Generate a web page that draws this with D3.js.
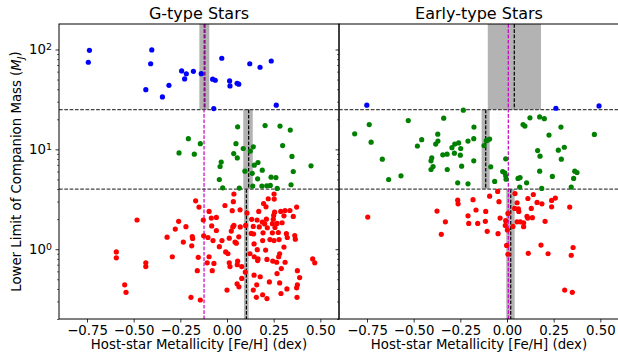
<!DOCTYPE html>
<html>
<head>
<meta charset="utf-8">
<script src="https://cdn.jsdelivr.net/npm/d3@7"></script>
<style>
  html, body { margin: 0; padding: 0; background: #fff; }
  svg { display: block; font-family: "DejaVu Sans", sans-serif; }
</style>
</head>
<body>
<svg id="chart" width="618" height="356"></svg>
<script>
// ---- Data: [Fe/H] (dex), lower-limit companion mass (M_J) ----
const gBlue = [[-0.743,74.5],[-0.737,98],[-0.409,72],[-0.403,99],[-0.435,39.6],[-0.346,33.5],[-0.311,43.8],[-0.243,61],[-0.218,57],[-0.227,50.7],[-0.180,60.5],[-0.138,57.3],[-0.077,50.4],[-0.063,49.2],[-0.071,25.6],[-0.028,81.7],[0.014,48.4],[0.016,43.2],[0.054,45.9],[0.063,44.9],[0.122,72],[0.177,66.4],[0.237,76.7],[0.264,27.7]];

const gGreen = [[0.057,16.8],[0.204,17.3],[0.284,17.1],[0.339,15.6],[-0.207,12.8],[-0.143,11.4],[-0.257,9.2],[-0.175,8.95],[0.048,11.4],[0.087,10.2],[0.141,10.6],[0.125,9.6],[0.298,10.9],[0.036,9.08],[0.055,8.2],[0.348,8.5],[-0.031,7.45],[-0.037,6.73],[0.166,7.38],[0.146,6.95],[0.450,6.84],[0.189,6.19],[0.096,6.05],[0.355,6.0],[0.164,5.07],[0.236,5.27],[0.262,5.22],[-0.041,4.99],[-0.023,4.12],[0.066,4.09],[0.138,4.29],[0.187,4.29],[0.213,4.32],[0.232,4.35],[0.269,4.06],[0.343,4.42],[0.135,5.75]];

const gRed = [[-0.168,3.05],[-0.150,2.64],[0.037,3.57],[-0.011,2.74],[0.034,2.99],[0.070,2.48],[0.028,2.43],[-0.096,2.39],[0.107,2.30],[0.252,3.57],
[0.253,3.18],[0.221,3.20],[0.196,2.87],[0.209,2.66],[0.170,2.39],[0.255,2.35],[0.288,2.39],[0.311,2.44],[0.337,2.44],[0.373,2.64],
[0.305,2.16],[0.250,2.18],[0.355,2.13],[-0.482,1.96],[-0.259,1.90],[-0.127,1.96],[-0.084,2.05],[-0.057,2.08],[0.132,1.99],[0.161,1.96],
[0.211,2.00],[0.248,1.99],[0.189,1.87],[0.202,1.79],[0.243,1.80],[0.268,1.81],[0.295,1.84],[0.141,1.69],[0.173,1.67],[0.216,1.64],
[0.257,1.65],[0.100,1.73],[0.071,1.67],[0.031,1.67],[0.037,1.73],[-0.082,1.71],[-0.220,1.68],[-0.277,1.59],[-0.057,1.54],[0.023,1.52],
[0.130,1.44],[0.143,1.42],[0.193,1.46],[0.243,1.46],[0.275,1.47],[0.318,1.43],[-0.186,1.34],[-0.184,1.28],[-0.125,1.36],[-0.102,1.31],
[-0.321,1.32],[0.012,1.29],[0.063,1.33],[0.043,1.18],[-0.027,1.22],[-0.075,1.22],[-0.234,1.18],[-0.189,1.08],[-0.041,1.06],[0.050,1.15],
[0.145,1.13],[0.191,1.22],[0.230,1.25],[0.252,1.22],[0.279,1.25],[0.323,1.31],[0.363,1.37],[0.366,1.26],[0.305,1.05],[0.207,0.98],
[0.162,0.99],[-0.593,0.94],[-0.593,0.82],[-0.293,0.84],[-0.154,0.83],[-0.096,0.84],[-0.007,0.94],[0.005,0.90],[0.123,0.90],[0.146,0.84],
[0.166,0.80],[0.214,0.79],[0.282,0.90],[0.277,0.84],[0.245,0.76],[0.266,0.74],[0.311,0.74],[0.164,0.77],[-0.435,0.73],[-0.435,0.67],
[-0.106,0.73],[-0.070,0.72],[0.012,0.73],[0.016,0.67],[0.057,0.76],[0.055,0.70],[0.079,0.67],[-0.159,0.61],[-0.079,0.61],[0.098,0.59],
[0.145,0.55],[0.178,0.53],[0.291,0.64],[0.268,0.57],[0.377,0.61],[0.389,0.52],[0.079,0.51],[0.227,0.47],[0.282,0.46],[0.054,0.45],
[0.064,0.42],[0.159,0.44],[0.377,0.44],[0.373,0.41],[0.321,0.40],[-0.548,0.44],[-0.541,0.37],[0.000,0.39],[0.141,0.39],[0.289,0.36],
[0.191,0.35],[0.157,0.33],[0.214,0.32],[0.375,0.33],[-0.193,0.33],[-0.143,0.31],[0.459,0.80],[0.470,0.73]];

const eBlue = [[-0.751,27.7],[0.262,25.8],[0.493,27.2]];

const eGreen = [[-0.234,24.7],[-0.738,17.7],[-0.816,14.3],[-0.728,11.8],[-0.529,19.4],[-0.339,20.5],[-0.177,16.7],[-0.371,14.2],[-0.457,12.5],[-0.370,12.1],
[-0.382,11.3],[-0.480,10.8],[-0.668,7.98],[-0.634,4.99],[-0.568,5.43],[-0.403,8.22],[-0.407,7.67],[-0.396,6.73],[-0.407,6.28],[-0.344,8.81],
[-0.321,8.95],[-0.320,6.28],[-0.295,10.4],[-0.280,11.3],[-0.259,11.6],[-0.282,9.16],[-0.248,10.2],[-0.250,8.75],[-0.209,12.1],[-0.178,12.8],
[-0.178,7.67],[-0.243,6.79],[-0.264,4.62],[-0.209,4.52],[-0.123,10.9],[-0.111,12.2],[-0.093,12.7],[-0.102,12.4],[-0.087,6.68],[-0.066,4.77],
[-0.007,8.04],[-0.023,6.0],[-0.012,5.82],[-0.007,5.43],[-0.005,5.03],[0.059,5.11],[0.070,5.22],[0.105,4.62],[0.068,4.19],[0.123,20.7],
[0.086,17.7],[0.096,17.1],[0.175,21.1],[0.200,20.3],[0.289,16.7],[0.225,13.9],[0.164,9.73],[0.177,8.55],[0.275,9.82],[0.307,10.5],
[0.291,7.98],[0.175,6.05],[0.243,5.35],[0.363,6.05],[0.375,5.86],[0.357,5.11],[0.344,4.19],[0.186,4.06],[0.468,14.1]];

const eRed = [[-0.746,2.10],[-0.375,2.41],[-0.330,1.88],[-0.352,1.41],[-0.264,3.10],[-0.262,2.85],[-0.182,3.13],[-0.209,2.16],[-0.205,1.81],[-0.166,2.47],
[-0.157,1.81],[-0.114,2.39],[-0.116,1.90],[-0.106,1.51],[-0.093,3.40],[-0.050,3.79],[-0.043,2.99],[-0.037,2.05],[-0.048,1.43],[-0.007,1.93],
[-0.009,1.73],[0.005,2.28],[0.002,1.56],[-0.002,1.09],[0.005,0.89],[0.032,1.69],[0.043,3.61],[0.054,2.92],[0.041,2.56],[0.061,2.54],
[0.063,2.39],[0.054,1.88],[0.071,1.88],[0.089,1.84],[0.089,1.68],[0.112,3.22],[0.141,3.53],[0.161,2.94],[0.187,2.85],[0.130,2.56],
[0.107,2.13],[0.111,2.05],[0.136,2.07],[0.204,1.90],[0.239,3.08],[0.259,3.25],[0.239,2.66],[0.336,2.64],[0.182,1.10],[0.114,0.91],
[0.220,0.90],[0.354,1.04],[0.344,0.87],[0.309,0.39],[0.350,0.37]];

// Mass boundaries (M_J) separating the three companion classes
const massCuts = [4, 25];

// Per-class [Fe/H] centre and uncertainty range, ordered: >25, 4-25, <4 M_J
const gCenter = [-0.119, 0.116, 0.104];
const gLow    = [-0.148, 0.087, 0.091];
const gHigh   = [-0.095, 0.138, 0.116];
const eCenter = [0.039, -0.114, 0.020];
const eLow    = [-0.103, -0.136, -0.004];
const eHigh   = [0.182, -0.093, 0.041];

// Reference metallicity of each parent sample
const gReference = -0.123;
const eReference = 0.007;

// Axis ticks
const xTicks = [-0.75, -0.5, -0.25, 0, 0.25, 0.5];
const yTicks = [1, 10, 100];
const titles = ["G-type Stars", "Early-type Stars"];
const xLabel = "Host-star Metallicity [Fe/H] (dex)";

// ---- Layout ----
const svg = d3.select("#chart");
const plotTop = 24, plotBottom = 319;
const panels = [
  { x0: 59,  x1: 339, title: titles[0], blue: gBlue, green: gGreen, red: gRed,
    center: gCenter, low: gLow, high: gHigh, ref: gReference, labels: true },
  { x0: 339, x1: 619, title: titles[1], blue: eBlue, green: eGreen, red: eRed,
    center: eCenter, low: eLow, high: eHigh, ref: eReference, labels: false }
];

const y = d3.scaleLog().domain([0.2, 180]).range([plotBottom, plotTop]);
const bins = [[massCuts[1], 180], [massCuts[0], massCuts[1]], [0.2, massCuts[0]]];

const minorTicks = [];
[0.1, 1, 10, 100].forEach(dec => {
  for (let k = 2; k <= 9; k++) {
    const v = dec * k;
    if (v >= 0.2 && v <= 180) minorTicks.push(v);
  }
});

const fmtX = v => (v < 0 ? "\u2212" : "") + Math.abs(v).toFixed(2);

panels.forEach((p, i) => {
  const x = d3.scaleLinear().domain([-0.9, 0.6]).range([p.x0, p.x1]);
  const g = svg.append("g");

  const clipId = "clip" + i;
  svg.append("clipPath").attr("id", clipId)
    .append("rect").attr("x", p.x0).attr("y", plotTop)
    .attr("width", p.x1 - p.x0).attr("height", plotBottom - plotTop);

  const plot = g.append("g").attr("clip-path", `url(#${clipId})`);

  // Uncertainty bands per mass class
  bins.forEach((b, j) => {
    plot.append("rect")
      .attr("x", x(p.low[j]))
      .attr("width", x(p.high[j]) - x(p.low[j]))
      .attr("y", y(b[1]))
      .attr("height", y(b[0]) - y(b[1]))
      .attr("fill", "#b3b3b3");
  });

  // Centre of each class
  bins.forEach((b, j) => {
    plot.append("line")
      .attr("x1", x(p.center[j])).attr("x2", x(p.center[j]))
      .attr("y1", y(b[1])).attr("y2", y(b[0]))
      .attr("stroke", "#000").attr("stroke-width", 1.2)
      .attr("stroke-dasharray", "3.7,1.6");
  });

  // Sample reference metallicity
  plot.append("line")
    .attr("x1", x(p.ref)).attr("x2", x(p.ref))
    .attr("y1", plotTop).attr("y2", plotBottom)
    .attr("stroke", "#c800c8").attr("stroke-width", 1.2)
    .attr("stroke-dasharray", "3.7,1.6");

  // Class boundaries
  massCuts.forEach(m => {
    plot.append("line")
      .attr("x1", p.x0).attr("x2", p.x1)
      .attr("y1", y(m)).attr("y2", y(m))
      .attr("stroke", "#444").attr("stroke-width", 1.2)
      .attr("stroke-dasharray", "3.7,1.6");
  });

  // Companions
  [[p.red, "#ff0000"], [p.green, "#008000"], [p.blue, "#0000ff"]].forEach(([data, color]) => {
    plot.selectAll(null).data(data).enter().append("circle")
      .attr("cx", d => x(d[0]))
      .attr("cy", d => y(d[1]))
      .attr("r", 2.6)
      .attr("fill", color);
  });

  // X axis
  const xAxis = g.append("g").attr("transform", `translate(0,${plotBottom})`)
    .call(d3.axisBottom(x).tickValues(xTicks).tickFormat(fmtX).tickSize(3.5).tickSizeOuter(0).tickPadding(3.5));
  xAxis.select(".domain").remove();
  xAxis.selectAll("text").attr("font-size", "13.3px").attr("fill", "#000")
    .attr("font-family", "DejaVu Sans, sans-serif");
  xAxis.selectAll("line").attr("stroke", "#000").attr("stroke-width", 0.8);

  // Y axis: major and minor ticks
  const yMinor = g.append("g").attr("transform", `translate(${p.x0},0)`)
    .call(d3.axisLeft(y).tickValues(minorTicks).tickFormat("").tickSize(2).tickSizeOuter(0));
  yMinor.select(".domain").remove();
  yMinor.selectAll("line").attr("stroke", "#000").attr("stroke-width", 0.6);

  const yMajor = g.append("g").attr("transform", `translate(${p.x0},0)`)
    .call(d3.axisLeft(y).tickValues(yTicks).tickFormat("").tickSize(3.5).tickSizeOuter(0));
  yMajor.select(".domain").remove();
  yMajor.selectAll("line").attr("stroke", "#000").attr("stroke-width", 0.8);

  if (p.labels) {
    yTicks.forEach(v => {
      const t = g.append("text")
        .attr("x", p.x0 - 7)
        .attr("y", y(v) + 5)
        .attr("text-anchor", "end")
        .attr("font-size", "13.3px")
        .attr("fill", "#000");
      t.append("tspan").text("10");
      t.append("tspan").attr("dy", "-0.45em").attr("font-size", "9.4px")
        .text(String(Math.round(Math.log10(v))));
    });
  }

  // Frame
  g.append("rect")
    .attr("x", p.x0).attr("y", plotTop)
    .attr("width", p.x1 - p.x0).attr("height", plotBottom - plotTop)
    .attr("fill", "none").attr("stroke", "#000").attr("stroke-width", 1);

  // Title and x label
  g.append("text")
    .attr("x", (p.x0 + p.x1) / 2).attr("y", 19)
    .attr("text-anchor", "middle").attr("font-size", "16px").attr("fill", "#000")
    .text(p.title);

  g.append("text")
    .attr("x", (p.x0 + p.x1) / 2).attr("y", 349)
    .attr("text-anchor", "middle").attr("font-size", "13.3px").attr("fill", "#000")
    .text(xLabel);
});

// Shared y label
const yl = svg.append("text")
  .attr("transform", `translate(21,${(plotTop + plotBottom) / 2}) rotate(-90)`)
  .attr("text-anchor", "middle").attr("font-size", "13.3px").attr("fill", "#000");
yl.append("tspan").text("Lower Limit of Companion Mass (");
yl.append("tspan").attr("font-style", "italic").text("M");
yl.append("tspan").attr("font-size", "9.4px").attr("font-style", "italic").attr("dy", "0.3em").text("J");
yl.append("tspan").attr("dy", "-0.3em").text(")");
</script>
</body>
</html>
